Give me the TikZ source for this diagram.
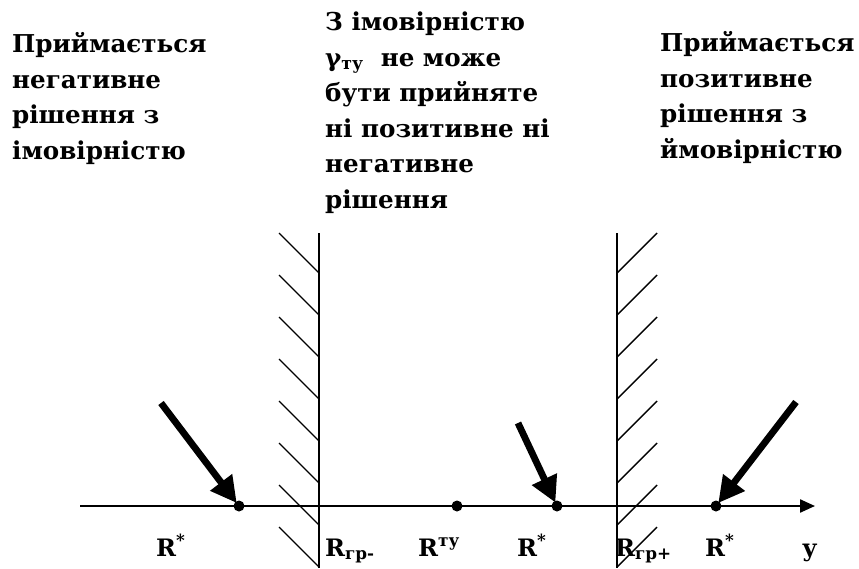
\documentclass[tikz,border=0pt]{standalone}
\usepackage{fontspec}
\setmainfont{DejaVu Serif}
\usetikzlibrary{arrows.meta}
\begin{document}
\begin{tikzpicture}[x=1pt,y=-1pt,
  toptext/.style={anchor=base west, align=left, inner sep=0pt,
    font=\bfseries\fontsize{24.6}{35.5}\selectfont},
  lbl/.style={anchor=base west, inner sep=0pt, font=\bfseries\fontsize{24}{26}\selectfont},
  dotnode/.style={circle, fill=black, inner sep=0pt, minimum size=11pt},
  bigarrow/.style={line width=6.8pt, -{Triangle[length=26pt,width=26pt]}, shorten >=-2pt},
  wall/.style={line width=2pt},
  hatch/.style={line width=1.4pt}
]
\useasboundingbox (0,0) rectangle (859,568);

% texts (anchored at the baseline of the last line)
\node[toptext] (neg) at (12,159) {Приймається\\негативне\\рішення з\\імовірністю};
\node[toptext] (mid) at (325,208) {З імовірністю\\γ\textsubscript{ту}\ \ не може\\бути прийняте\\ні позитивне ні\\негативне\\рішення};
\node[toptext] (pos) at (660,158) {Приймається\\позитивне\\рішення з\\ймовірністю};

% axis
\coordinate (ax0) at (80,506);
\coordinate (ax1) at (815,506);
\node[dotnode] (d1) at (239,506) {};
\node[dotnode] (d2) at (457,506) {};
\node[dotnode] (d3) at (557,506) {};
\node[dotnode] (d4) at (716,506) {};
\draw[line width=2.3pt] (ax0) -- (d1.center);
\draw[line width=1.6pt] (d1.center) -- (d2.center);
\draw[line width=2.3pt, -{Triangle[length=15pt,width=13pt]}] (d2.center) -- (ax1);

% walls
\coordinate (wl0) at (319,233);
\coordinate (wl1) at (319,568);
\coordinate (wr0) at (617,233);
\coordinate (wr1) at (617,568);
\draw[wall] (wl0) -- (wl1);
\draw[wall] (wr0) -- (wr1);
\foreach \i in {0,...,7}{
  \pgfmathsetmacro{\yy}{233+42*\i}
  \draw[hatch] (279,\yy) -- (319,\yy+40);
  \draw[hatch] (617,\yy+40) -- (657,\yy);
}

% arrows
\coordinate (a1) at (161,403);
\coordinate (a2) at (518,423);
\coordinate (a3) at (796,402);
\draw[bigarrow] (a1) -- (d1);
\draw[bigarrow] (a2) -- (d3);
\draw[bigarrow] (a3) -- (d4);

% labels
\node[lbl] (l1) at (156,556) {R\textsuperscript{*}};
\node[lbl] (l2) at (325,556) {R\textsubscript{гр-}};
\node[lbl] (l3) at (418,556) {R\textsuperscript{ту}};
\node[lbl] (l4) at (517,556) {R\textsuperscript{*}};
\node[lbl] (l5) at (615,556) {R\textsubscript{гр+}};
\node[lbl] (l6) at (705,556) {R\textsuperscript{*}};
\node[lbl] (l7) at (802,556) {у};
\end{tikzpicture}
\end{document}
